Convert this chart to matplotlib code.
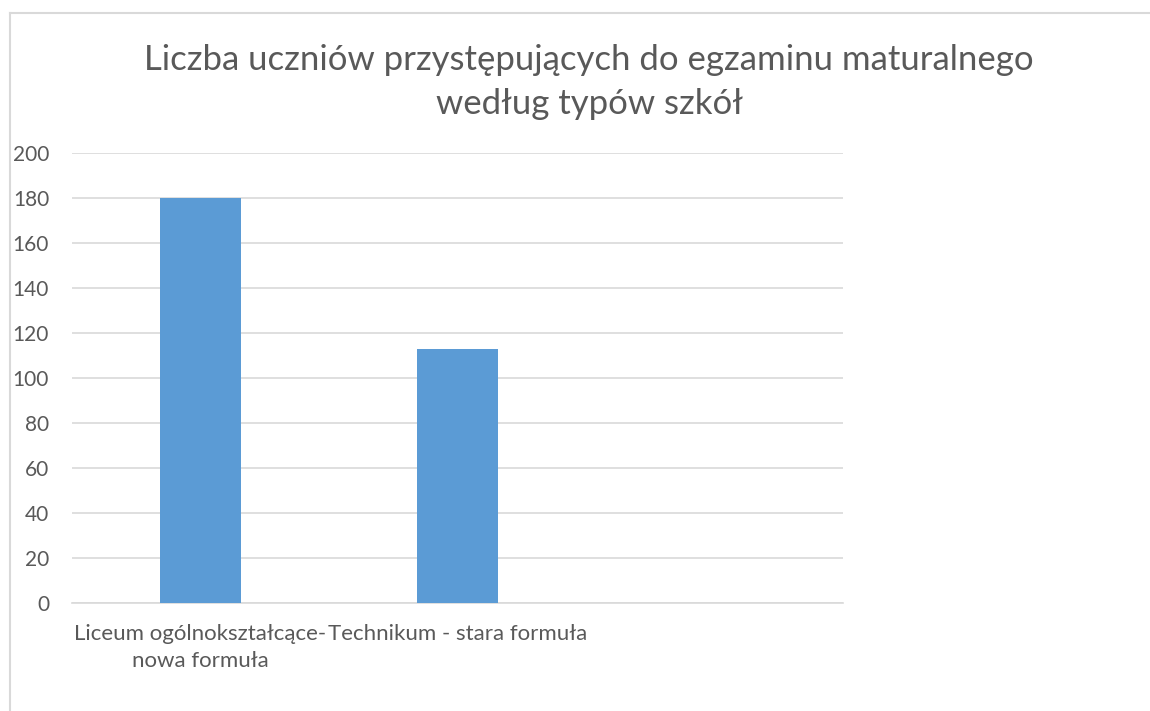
import matplotlib
matplotlib.use("Agg")
import matplotlib.pyplot as plt
from matplotlib.lines import Line2D

categories = ["Liceum ogólnokształcące-\nnowa formuła", "Technikum - stara formuła", ""]
values = [180, 113, 0]
title = "Liczba uczniów przystępujących do egzaminu maturalnego\nwedług typów szkół"
yticks = [0, 20, 40, 60, 80, 100, 120, 140, 160, 180, 200]

plt.rcParams['font.family'] = ['Lato', 'DejaVu Sans']
W, H = 1150, 711
fig = plt.figure(figsize=(W/100, H/100), dpi=100)
fig.patch.set_facecolor('white')

# Chart border (extends past right/bottom)
fig.add_artist(Line2D([10/W, 1.0], [1-13/H, 1-13/H], color='#d9d9d9', lw=1.5))
fig.add_artist(Line2D([10/W, 10/W], [0, 1-13/H], color='#d9d9d9', lw=1.5))

ax = fig.add_axes([72/W, 1-603/H, (843-72)/W, (603-153)/H])
xs = list(range(len(categories)))
ax.bar(xs, values, width=0.315, color='#5b9bd5', zorder=3)
ax.set_xlim(-0.5, len(categories)-0.5)
ax.set_ylim(0, 200)
ax.set_yticks(yticks)
ax.yaxis.grid(True, color='#d9d9d9', lw=1.2, zorder=0)
ax.set_axisbelow(True)
for s in ['top', 'right', 'left']:
    ax.spines[s].set_visible(False)
ax.spines['bottom'].set_color('#d9d9d9')
ax.spines['bottom'].set_linewidth(1.2)
ax.tick_params(axis='both', length=0, labelcolor='#595959')
ax.tick_params(axis='y', pad=16.5, labelsize=15)
ax.set_xticks(xs)
ax.set_xticklabels(categories, fontsize=16, color='#595959', linespacing=1.45)
ax.tick_params(axis='x', pad=15)

fig.text(589/W, 1-82/H, title, ha='center', va='center', fontsize=25,
         color='#595959', linespacing=1.5)

fig.savefig("out.png", dpi=100, facecolor='white')
